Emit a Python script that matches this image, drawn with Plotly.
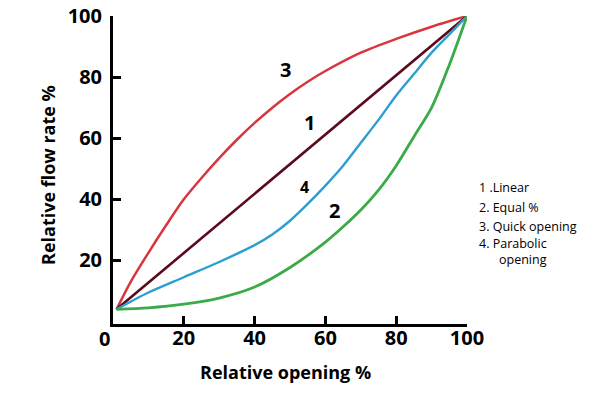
import plotly.graph_objects as go

# ---- data ----
linear_x = [1, 100]
linear_y = [4, 100]

quick_x = [1, 5, 10, 15, 20, 25, 30, 35, 40, 45, 50, 55, 60, 70, 80, 90, 100]
quick_y = [4, 13, 22.5, 31.5, 40, 47, 53.5, 59.5, 65, 70, 74.5, 78.5, 82, 88, 92.5, 96.5, 100]

parab_x = [1, 10, 20, 30, 40, 45, 50, 55, 60, 65, 70, 75, 80, 85, 90, 95, 100]
parab_y = [4, 9.5, 14.5, 19.5, 25, 28.5, 33, 38.5, 44.5, 51, 58.5, 66, 74, 81, 88, 94, 100]

equal_x = [1, 10, 20, 30, 40, 50, 60, 65, 70, 75, 80, 85, 90, 95, 100]
equal_y = [4, 4.5, 5.7, 7.7, 11.3, 17.7, 26, 31, 36.5, 43, 51, 60.5, 70, 84, 100]

x_ticks = [20, 40, 60, 80, 100]
y_ticks = [20, 40, 60, 80, 100]

curve_labels = ["3", "1", "4", "2"]
curve_label_x = [48.6, 55.4, 54.2, 62.7]
curve_label_y = [82.4, 65, 44, 36.3]
curve_label_size = [20, 20, 16, 20]

legend_lines = ["1 .Linear", "2. Equal %", "3. Quick opening", "4. Parabolic", "opening"]
legend_px_y = [187, 207, 226, 243, 259]
legend_px_x = [477, 477, 477, 477, 497]

# ---- figure ----
L, R, T, B = 113, 129, 16, 72
W, H = 596, 396
plot_w = W - L - R
plot_h = H - T - B

fig = go.Figure()
fig.add_trace(go.Scatter(x=quick_x, y=quick_y, mode="lines",
                         line=dict(color="#d8363e", width=2.5, shape="spline", smoothing=0.8)))
fig.add_trace(go.Scatter(x=linear_x, y=linear_y, mode="lines", line=dict(color="#5a0a1c", width=2.6)))
fig.add_trace(go.Scatter(x=parab_x, y=parab_y, mode="lines",
                         line=dict(color="#2b9fcf", width=2.4, shape="spline", smoothing=0.8)))
fig.add_trace(go.Scatter(x=equal_x, y=equal_y, mode="lines",
                         line=dict(color="#3aab48", width=2.8, shape="spline", smoothing=0.8)))

ann = []
for t, x, y, s in zip(curve_labels, curve_label_x, curve_label_y, curve_label_size):
    ann.append(dict(x=x, y=y, xref="x", yref="y", text=t, showarrow=False,
                    xanchor="center", yanchor="middle",
                    font=dict(family="Open Sans", size=s, color="black", weight="bold")))

for t, px, py in zip(legend_lines, legend_px_x, legend_px_y):
    ann.append(dict(x=(px - L) / plot_w, y=(H - B - py) / plot_h, xref="paper", yref="paper",
                    text=t, showarrow=False, xanchor="left", yanchor="middle",
                    font=dict(family="Open Sans", size=12.5, color="black")))

# axis titles
ann.append(dict(x=(48 - L) / plot_w, y=(H - B - 175) / plot_h, xref="paper", yref="paper",
                text="Relative flow rate %", textangle=-90, showarrow=False,
                xanchor="center", yanchor="middle",
                font=dict(family="Open Sans", size=18, color="black", weight="bold")))
ann.append(dict(x=(285 - L) / plot_w, y=(H - B - 372) / plot_h, xref="paper", yref="paper",
                text="Relative opening %", showarrow=False,
                xanchor="center", yanchor="middle",
                font=dict(family="Open Sans", size=18, color="black", weight="bold")))
# origin label
ann.append(dict(x=(104 - L) / plot_w, y=(H - B - 338) / plot_h, xref="paper", yref="paper",
                text="0", showarrow=False, xanchor="center", yanchor="middle",
                font=dict(family="Open Sans", size=20, color="black", weight="bold")))

tickfont = dict(family="Open Sans", size=20, color="black", weight="bold")
fig.update_layout(
    width=W, height=H,
    margin=dict(l=L, r=R, t=T, b=B, autoexpand=False),
    paper_bgcolor="white", plot_bgcolor="white",
    showlegend=False,
    annotations=ann,
    xaxis=dict(range=[0, 100], tickvals=x_ticks, ticktext=[str(v) for v in x_ticks],
               showgrid=False, zeroline=False, showline=True, linecolor="black", linewidth=3,
               ticks="inside", ticklen=8, tickwidth=3, tickcolor="black", tickfont=tickfont,
               ticklabelstandoff=-6, automargin=False),
    yaxis=dict(range=[-0.8, 100], tickvals=y_ticks, ticktext=[str(v) for v in y_ticks],
               showgrid=False, zeroline=False, showline=True, linecolor="black", linewidth=3,
               ticks="inside", ticklen=8, tickwidth=3, tickcolor="black", tickfont=tickfont,
               ticklabelstandoff=4, automargin=False),
)

fig.write_html("out.html", config={"displayModeBar": False},
               post_script="document.body.style.margin='0';document.body.style.overflow='hidden';")
